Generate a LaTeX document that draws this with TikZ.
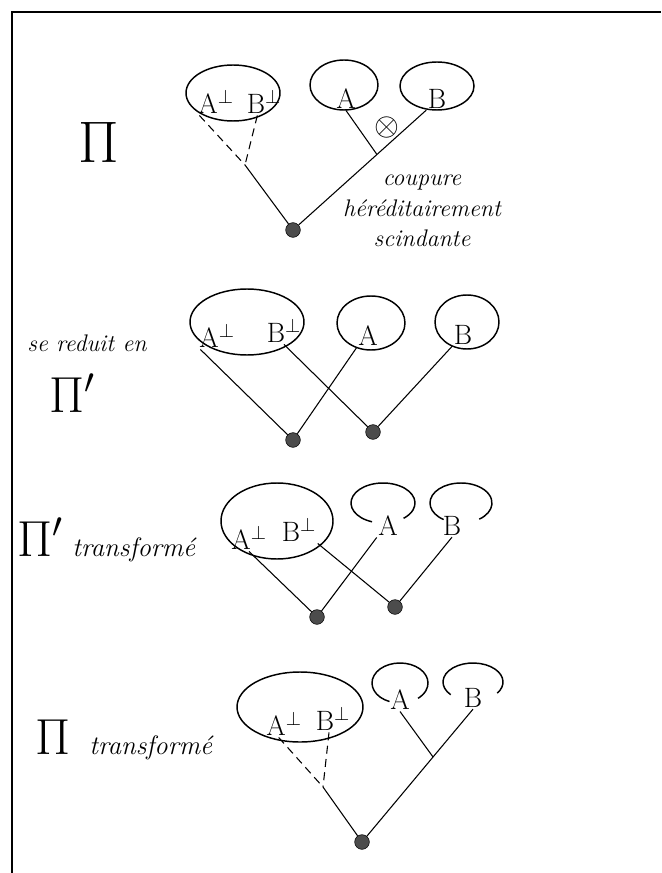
\RequirePackage{fix-cm}
\documentclass[tikz,border=0pt]{standalone}
\usepackage{amsmath}
\usepackage{amssymb}
\usepackage{fontspec}
\usepackage{tikz}
\usetikzlibrary{positioning,calc}

\begin{document}
\begin{tikzpicture}[x=0.75pt,y=-0.75pt,
    bubble/.style={line width=1.1pt},
    wire/.style={line width=0.8pt},
    cutwire/.style={wire,dashed,dash pattern=on 6pt off 4pt},
    link/.style={circle,fill=black!70,draw=black,inner sep=0pt,minimum size=11pt},
    atom/.style={inner sep=1pt,font=\fontsize{21}{24}\selectfont},
    hand/.style={inner sep=1pt,font=\fontsize{18}{23}\selectfont\itshape},
    proof/.style={inner sep=0pt,font=\fontsize{44}{46}\selectfont}]
    \useasboundingbox (0,0) rectangle (661,873);

    % Frame
    \draw[line width=1.5pt] (12,873) -- (12,12) -- (661,12);

    % Pi with the cut on the tensor
    \node[proof] (pi1) at (99,143) {Π};
    \draw[bubble] (233,93) ellipse [x radius=47, y radius=28];
    \draw[bubble] (344,85) ellipse [x radius=34, y radius=25];
    \draw[bubble] (437,86) ellipse [x radius=37, y radius=24];
    \node[atom] (pa1) at (216,102) {A$^{\perp}$};
    \node[atom] (pb1) at (264,102) {B$^{\perp}$};
    \node[atom] (a1) at (346,99) {A};
    \node[atom] (b1) at (437,99) {B};
    \node[link] (d1) at (293,230) {};
    \coordinate (par1) at (245,165);
    \coordinate (ten1) at ($(b1.south west)!0.37!(d1)$);
    \draw[cutwire] ([xshift=2pt]pa1.south west) -- (par1);
    \draw[cutwire] ([xshift=-5pt]pb1.south) -- (par1);
    \draw[wire] (par1) -- (d1);
    \draw[wire] (b1.south west) -- (d1);
    \draw[wire] (a1.south) -- (ten1);
    \node[atom,font=\fontsize{24}{26}\selectfont] (ot1) at (387,128) {$\otimes$};
    \node[hand,align=center] (cut1) at (422,211) {coupure\\héréditairement\\scindante};

    % Pi' after reduction
    \node[hand] (red2) at (87,343) {se reduit en};
    \node[proof,font=\fontsize{38}{40}\selectfont] (pi2) at (72,393) {Π$'$};
    \draw[bubble] (247,322) ellipse [x radius=57, y radius=33];
    \draw[bubble] (371,323) ellipse [x radius=34, y radius=27];
    \draw[bubble] (467,322) ellipse [x radius=32, y radius=27];
    \node[atom] (pa2) at (217,336) {A$^{\perp}$};
    \node[atom] (pb2) at (284,331) {B$^{\perp}$};
    \node[atom] (a2) at (368,336) {A};
    \node[atom] (b2) at (463,335) {B};
    \node[link] (d2) at (293,440) {};
    \node[link] (e2) at (373,432) {};
    \draw[wire] ([xshift=2pt]pa2.south west) -- (d2);
    \draw[wire] (a2.south west) -- (d2);
    \draw[wire] (pb2.south) -- (e2);
    \draw[wire] (b2.south west) -- (e2);

    % Pi' transformed
    \node[hand,anchor=west,font=\fontsize{20}{23}\selectfont\itshape] (tr3) at (16,540) {{\fontsize{38}{40}\selectfont\upshape Π$'$} transformé};
    \draw[bubble] (277,521) ellipse [x radius=56, y radius=38];
    \draw[bubble] (383,503) ++(110:32 and 20) arc [start angle=110, end angle=410, x radius=32, y radius=20];
    \draw[bubble] (461,503) ++(124:31 and 20) arc [start angle=124, end angle=414, x radius=31, y radius=20];
    \node[atom] (pa3) at (249,538) {A$^{\perp}$};
    \node[atom] (pb3) at (299,530) {B$^{\perp}$};
    \node[atom] (a3) at (388,526) {A};
    \node[atom] (b3) at (452,526) {B};
    \node[link] (d3) at (317,617) {};
    \node[link] (e3) at (395,607) {};
    \draw[wire] (pa3.south) -- (d3);
    \draw[wire] (a3.south west) -- (d3);
    \draw[wire] (pb3.south east) -- (e3);
    \draw[wire] (b3.south) -- (e3);

    % Pi transformed
    \node[hand,anchor=west,font=\fontsize{20}{23}\selectfont\itshape] (tr4) at (34,740) {{\fontsize{38}{40}\selectfont\upshape Π}\ \ transformé};
    \draw[bubble] (300,707) ellipse [x radius=63, y radius=35];
    \draw[bubble] (400,683) ++(112:28 and 20) arc [start angle=112, end angle=410, x radius=28, y radius=20];
    \draw[bubble] (473,682) ++(138:30 and 19) arc [start angle=138, end angle=396, x radius=30, y radius=19];
    \node[atom] (pa4) at (284,724) {A$^{\perp}$};
    \node[atom] (pb4) at (333,719) {B$^{\perp}$};
    \node[atom] (a4) at (400,700) {A};
    \node[atom] (b4) at (473,698) {B};
    \node[link] (d4) at (362,842) {};
    \coordinate (par4) at (323,787);
    \coordinate (ten4) at ($(b4.south)!0.36!(d4)$);
    \draw[cutwire] ([xshift=-4pt]pa4.south) -- (par4);
    \draw[cutwire] ([xshift=-3pt]pb4.south) -- (par4);
    \draw[wire] (par4) -- (d4);
    \draw[wire] (b4.south) -- (d4);
    \draw[wire] (a4.south) -- (ten4);
\end{tikzpicture}
\end{document}
